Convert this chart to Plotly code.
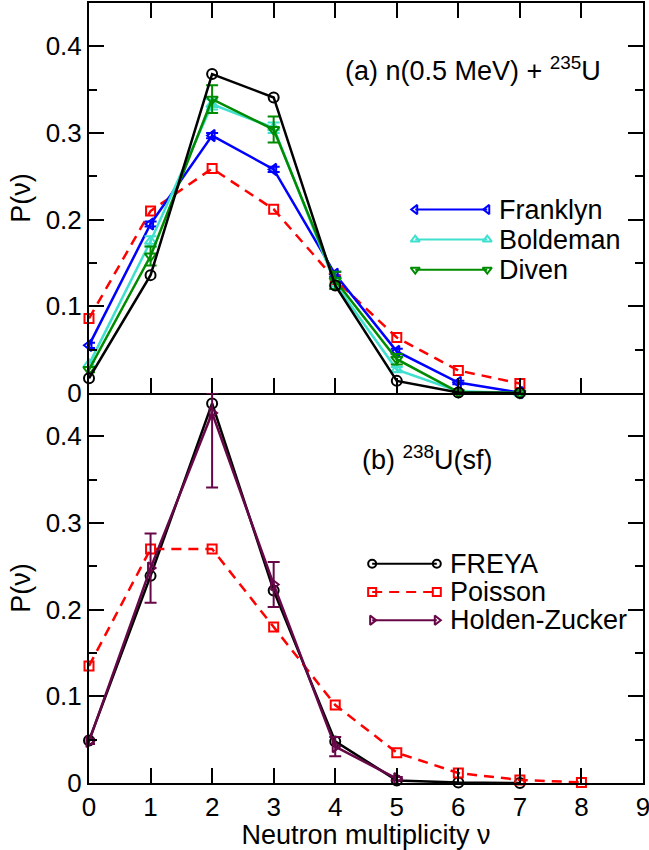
import plotly.graph_objects as go

# ---------------- data ----------------
nu_a = [0, 1, 2, 3, 4, 5, 6, 7]
freya_a = [0.017, 0.136, 0.368, 0.341, 0.124, 0.014, 0.0006, 0.0]
poisson_a = [0.086, 0.210, 0.259, 0.212, 0.131, 0.064, 0.026, 0.011]
franklyn = [0.055, 0.195, 0.297, 0.258, 0.137, 0.048, 0.012, 0.0005]
franklyn_err = [0.003, 0.003, 0.003, 0.003, 0.003, 0.003, 0.002, 0.001]
boldeman = [0.033, 0.175, 0.333, 0.306, 0.126, 0.027, 0.002, 0.0]
boldeman_err = [0.003, 0.006, 0.006, 0.006, 0.005, 0.003, 0.001, 0.0]
diven = [0.027, 0.158, 0.339, 0.304, 0.130, 0.039, 0.001, 0.0]
diven_err = [0.003, 0.011, 0.016, 0.015, 0.010, 0.006, 0.001, 0.0]

nu_b_freya = [0, 1, 2, 3, 4, 5, 6, 7]
freya_b = [0.049, 0.239, 0.438, 0.222, 0.048, 0.003, 0.0005, 0.0]
nu_b_poisson = [0, 1, 2, 3, 4, 5, 6, 7, 8]
poisson_b = [0.135, 0.270, 0.270, 0.180, 0.090, 0.035, 0.0115, 0.0035, 0.0007]
nu_b_hz = [0, 1, 2, 3, 4, 5]
hz = [0.048, 0.248, 0.427, 0.229, 0.042, 0.005]
hz_err = [0.003, 0.040, 0.086, 0.026, 0.011, 0.002]

x_ticks = [0, 1, 2, 3, 4, 5, 6, 7, 8, 9]
y_ticks = [0, 0.1, 0.2, 0.3, 0.4]
y_ticktext = ["0", "0.1", "0.2", "0.3", "0.4"]

# ---------------- styles ----------------
BLACK = "#000000"
RED = "#ff0000"
BLUE = "#0000ff"
TURQ = "#40e0d0"
GREEN = "#008b00"
MAROON = "#670748"
FONT = "Liberation Sans, Arial, sans-serif"
TICK_SIZE = 26
TITLE_SIZE = 27
LEGEND_SIZE = 27
LABEL_SIZE = 27

fig = go.Figure()


def add_series(x, y, color, symbol, xa, ya, dash="solid", err=None, size=10,
               err_plus=None):
    kw = {}
    if err is not None:
        ed = dict(type="data", array=err, visible=True, color=color,
                  thickness=2, width=6)
        if err_plus is not None:
            ed = dict(type="data", symmetric=False, array=err_plus, arrayminus=err,
                      visible=True, color=color, thickness=2, width=6)
        kw["error_y"] = ed
    fig.add_trace(go.Scatter(
        x=x, y=y, mode="lines+markers", xaxis=xa, yaxis=ya,
        line=dict(color=color, width=2.5, dash=dash),
        marker=dict(symbol=symbol, size=size, color=color,
                    line=dict(color=color, width=2)),
        cliponaxis=False, showlegend=False, **kw))


DASH = "10px,7px"

# panel (a)
add_series(nu_a, poisson_a, RED, "square-open", "x", "y", dash=DASH, size=9)
add_series(nu_a, franklyn, BLUE, "triangle-left-open", "x", "y", err=franklyn_err)
add_series(nu_a, boldeman, TURQ, "triangle-up-open", "x", "y", err=boldeman_err)
add_series(nu_a, diven, GREEN, "triangle-down-open", "x", "y", err=diven_err)
add_series(nu_a, freya_a, BLACK, "circle-open", "x", "y")

# panel (b)
add_series(nu_b_freya, freya_b, BLACK, "circle-open", "x2", "y2")
add_series(nu_b_poisson, poisson_b, RED, "square-open", "x2", "y2", dash=DASH, size=9)
hz_up = [min(e, 0.45 - v) for v, e in zip(hz, hz_err)]
add_series(nu_b_hz, hz, MAROON, "triangle-right-open", "x2", "y2",
           err=hz_err, err_plus=hz_up)

# ---------------- custom legends (layout positions, data units) ----------------
legend_a = dict(names=["Franklyn", "Boldeman", "Diven"],
                colors=[BLUE, TURQ, GREEN],
                symbols=["triangle-left-open", "triangle-up-open", "triangle-down-open"],
                dashes=["solid", "solid", "solid"],
                x0=5.30, x1=6.47, xt=6.62, y0=0.2117, dy=0.0347, xa="x", ya="y")
legend_b = dict(names=["FREYA", "Poisson", "Holden-Zucker"],
                colors=[BLACK, RED, MAROON],
                symbols=["circle-open", "square-open", "triangle-right-open"],
                dashes=["solid", DASH, "solid"],
                x0=4.60, x1=5.65, xt=5.83, y0=0.2530, dy=0.0326, xa="x2", ya="y2")

annotations = []
for lg in (legend_a, legend_b):
    for i, name in enumerate(lg["names"]):
        yy = lg["y0"] - i * lg["dy"]
        fig.add_trace(go.Scatter(
            x=[lg["x0"], lg["x1"]], y=[yy, yy], mode="lines+markers",
            xaxis=lg["xa"], yaxis=lg["ya"],
            line=dict(color=lg["colors"][i], width=2, dash=lg["dashes"][i]),
            marker=dict(symbol=lg["symbols"][i], size=8, color=lg["colors"][i],
                        line=dict(color=lg["colors"][i], width=2)),
            cliponaxis=False, showlegend=False, hoverinfo="skip"))
        annotations.append(dict(
            x=lg["xt"], y=yy, xref=lg["xa"], yref=lg["ya"], text=name,
            showarrow=False, xanchor="left", yanchor="middle",
            font=dict(family=FONT, size=LEGEND_SIZE, color="black")))

annotations.append(dict(
    x=4.13, y=0.352, xref="x", yref="y",
    text="(a) n(0.5 MeV) + <sup>235</sup>U", showarrow=False,
    xanchor="left", yanchor="bottom",
    font=dict(family=FONT, size=LABEL_SIZE, color="black")))
annotations.append(dict(
    x=4.40, y=0.353, xref="x2", yref="y2",
    text="(b) <sup>238</sup>U(sf)", showarrow=False,
    xanchor="left", yanchor="bottom",
    font=dict(family=FONT, size=LABEL_SIZE, color="black")))

common_x = dict(range=[0, 9], tickmode="array", tickvals=x_ticks,
                showline=True, linecolor="black", linewidth=2,
                ticks="inside", ticklen=15, tickwidth=2, tickcolor="black",
                showgrid=False, zeroline=False, ticklabeloverflow="allow",
                automargin=False,
                tickfont=dict(family=FONT, size=TICK_SIZE, color="black"))
common_y = dict(range=[0, 0.45], tickmode="array", tickvals=y_ticks,
                ticktext=y_ticktext, automargin=False,
                showline=True, linecolor="black", linewidth=2, mirror="ticks",
                ticks="inside", ticklen=15, tickwidth=2, tickcolor="black",
                minor=dict(dtick=0.05, tick0=0, ticks="inside", ticklen=8,
                           tickwidth=2, tickcolor="black"),
                showgrid=False, zeroline=False,
                tickfont=dict(family=FONT, size=TICK_SIZE, color="black"),
                title=dict(text="P(ν)", font=dict(family=FONT, size=TITLE_SIZE,
                                                   color="black"),
                           standoff=7))

fig.update_layout(
    width=649, height=850,
    margin=dict(l=89, r=6, t=3, b=67, autoexpand=False),
    paper_bgcolor="white", plot_bgcolor="white",
    showlegend=False,
    xaxis=dict(domain=[0, 1], anchor="y", showticklabels=False, mirror="ticks",
               **common_x),
    yaxis=dict(domain=[0.5, 1], anchor="x", **common_y),
    xaxis2=dict(domain=[0, 1], anchor="y2", showticklabels=True, mirror=False,
                title=dict(text="Neutron multiplicity ν",
                           font=dict(family=FONT, size=TITLE_SIZE, color="black"),
                           standoff=6),
                **common_x),
    yaxis2=dict(domain=[0, 0.5], anchor="x2", **common_y),
    annotations=annotations,
)

fig.write_html("out.html")
